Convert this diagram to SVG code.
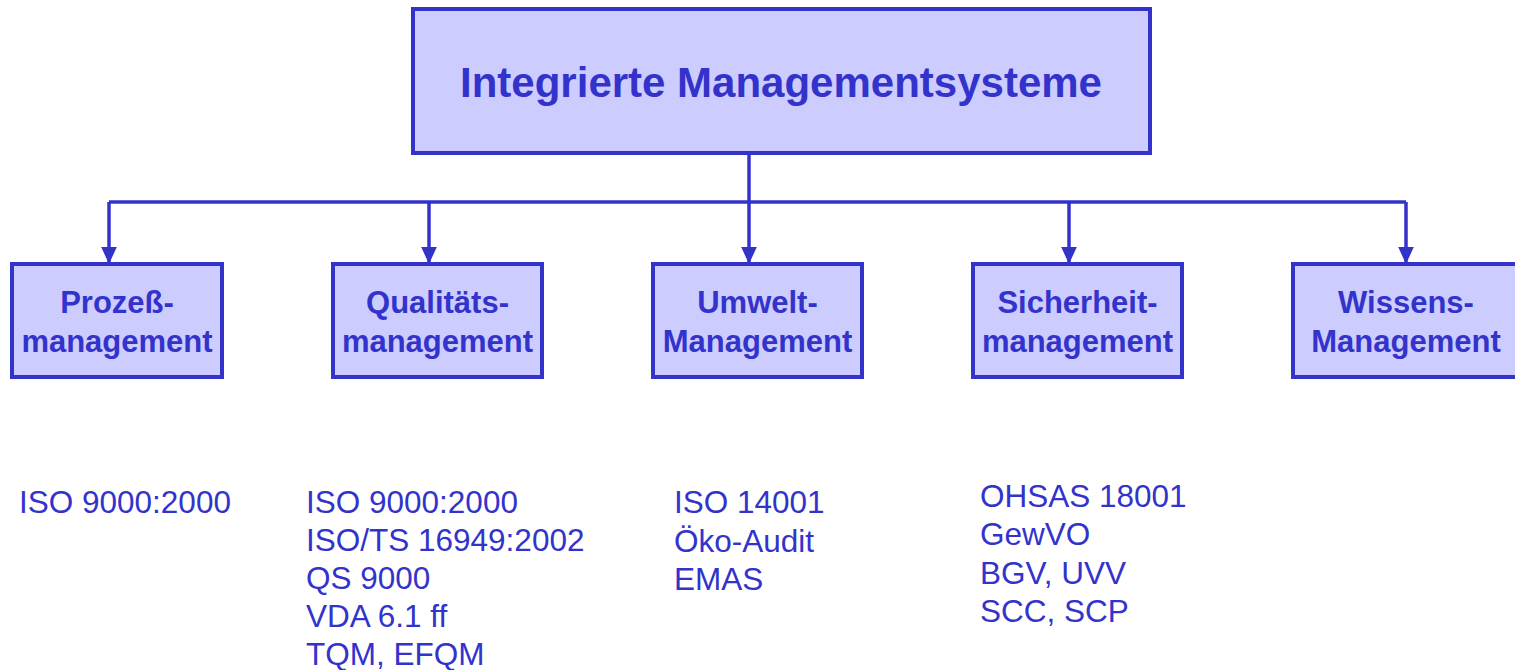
<svg xmlns="http://www.w3.org/2000/svg" width="1515" height="670" viewBox="0 0 1515 670">
<style>
.box{fill:#ccccff;stroke:#3333cc;stroke-width:4}
.title{font-family:"Liberation Sans",Arial,sans-serif;font-weight:bold;font-size:42px;fill:#3333cc;text-anchor:middle}
.lbl{font-family:"Liberation Sans",Arial,sans-serif;font-weight:bold;font-size:31px;fill:#3333cc;text-anchor:middle}
.lst{font-family:"Liberation Sans",Arial,sans-serif;font-size:31.5px;fill:#3333cc}
.con{fill:none;stroke:#3333cc;stroke-width:3.5}
</style>
<defs>
<marker id="ah" viewBox="0 0 10 10" refX="10" refY="5" markerWidth="5" markerHeight="4.6" markerUnits="strokeWidth" orient="auto" preserveAspectRatio="none">
<path d="M0,0 L10,5 L0,10 Z" fill="#3333cc"/>
</marker>
</defs>
<rect width="1515" height="670" fill="#ffffff"/>
<g id="connectors">
<path class="con" d="M749,153 V202"/>
<path class="con" d="M109,202 H1406"/>
<path class="con" d="M109,202 V264" marker-end="url(#ah)"/>
<path class="con" d="M429,202 V264" marker-end="url(#ah)"/>
<path class="con" d="M749,202 V264" marker-end="url(#ah)"/>
<path class="con" d="M1069,202 V264" marker-end="url(#ah)"/>
<path class="con" d="M1406,202 V264" marker-end="url(#ah)"/>
</g>
<g id="top">
<rect class="box" x="413" y="9" width="737" height="144"/>
<text class="title" x="781" y="97">Integrierte Managementsysteme</text>
</g>
<g id="prozess">
<rect class="box" x="12" y="264" width="210" height="113"/>
<text class="lbl" x="117" y="313">Prozeß-</text>
<text class="lbl" x="117" y="352">management</text>
</g>
<g id="qualitaet">
<rect class="box" x="333" y="264" width="209" height="113"/>
<text class="lbl" x="437.5" y="313">Qualitäts-</text>
<text class="lbl" x="437.5" y="352">management</text>
</g>
<g id="umwelt">
<rect class="box" x="653" y="264" width="209" height="113"/>
<text class="lbl" x="757.5" y="313">Umwelt-</text>
<text class="lbl" x="757.5" y="352">Management</text>
</g>
<g id="sicherheit">
<rect class="box" x="973" y="264" width="209" height="113"/>
<text class="lbl" x="1077.5" y="313">Sicherheit-</text>
<text class="lbl" x="1077.5" y="352">management</text>
</g>
<g id="wissen">
<rect class="box" x="1293" y="264" width="226" height="113"/>
<text class="lbl" x="1406" y="313">Wissens-</text>
<text class="lbl" x="1406" y="352">Management</text>
</g>
<g id="list-prozess">
<text class="lst" x="19" y="513">ISO 9000:2000</text>
</g>
<g id="list-qualitaet">
<text class="lst" x="306" y="513">ISO 9000:2000</text>
<text class="lst" x="306" y="551">ISO/TS 16949:2002</text>
<text class="lst" x="306" y="589">QS 9000</text>
<text class="lst" x="306" y="627">VDA 6.1 ff</text>
<text class="lst" x="306" y="665">TQM, EFQM</text>
</g>
<g id="list-umwelt">
<text class="lst" x="674" y="513">ISO 14001</text>
<text class="lst" x="674" y="552">Öko-Audit</text>
<text class="lst" x="674" y="590">EMAS</text>
</g>
<g id="list-sicherheit">
<text class="lst" x="980" y="507">OHSAS 18001</text>
<text class="lst" x="980" y="545">GewVO</text>
<text class="lst" x="980" y="584">BGV, UVV</text>
<text class="lst" x="980" y="622">SCC, SCP</text>
</g>
</svg>
